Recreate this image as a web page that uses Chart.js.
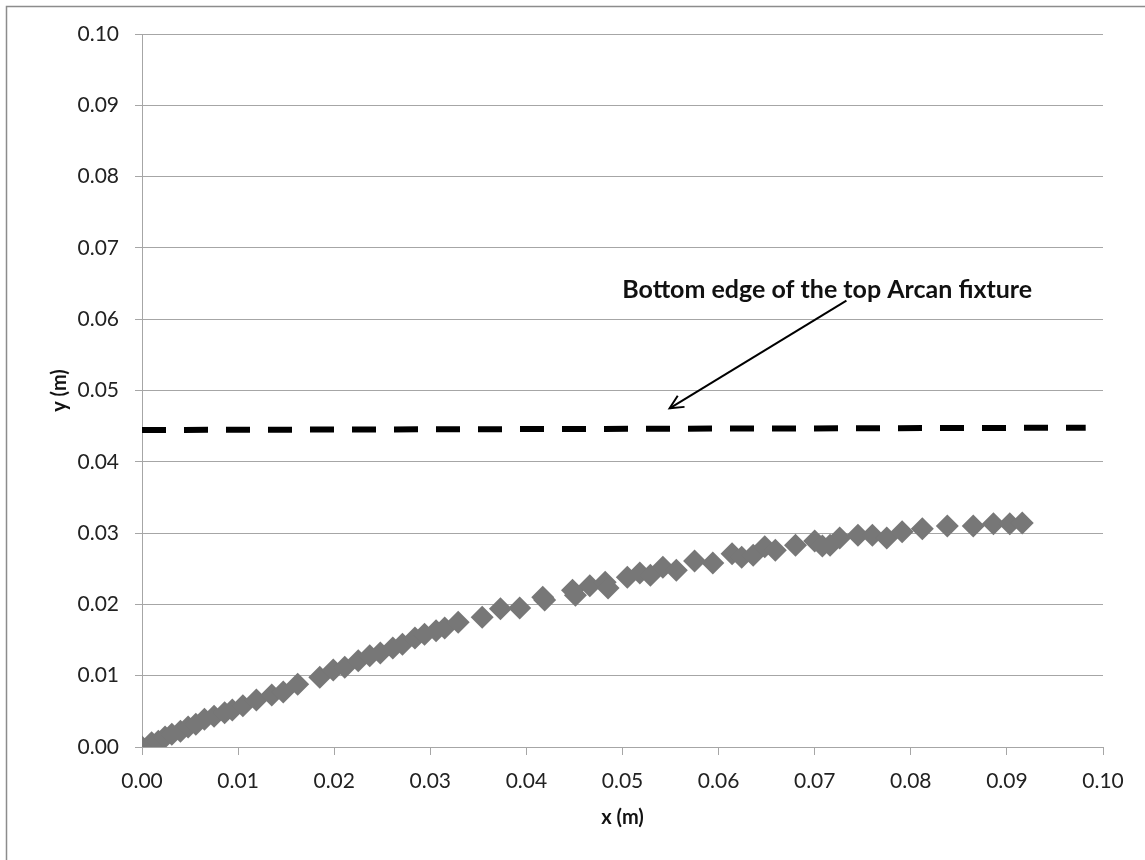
<!DOCTYPE html>
<html>
<head>
<title>Arcan fixture deflection</title>
<script src="https://cdn.jsdelivr.net/npm/chart.js@4"></script>
<style>
  body { margin: 0; background: #fff; }
  #wrap { position: relative; width: 1145px; height: 860px; }
</style>
</head>
<body>
<div id="wrap"><canvas id="chart" width="1145" height="860"></canvas></div>
<script>
// measured points (m)
const xVals = [0.0000, 0.0010, 0.0017, 0.0024, 0.0031, 0.0040, 0.0048, 0.0056, 0.0065, 0.0075,
  0.0086, 0.0094, 0.0105, 0.0119, 0.0135, 0.0147, 0.0162, 0.0185, 0.0199, 0.0211,
  0.0225, 0.0237, 0.0248, 0.0261, 0.0271, 0.0284, 0.0294, 0.0306, 0.0315, 0.0329,
  0.0354, 0.0373, 0.0393, 0.0417, 0.0419, 0.0448, 0.0451, 0.0466, 0.0482, 0.0485,
  0.0505, 0.0518, 0.0529, 0.0542, 0.0556, 0.0575, 0.0594, 0.0614, 0.0624, 0.0636,
  0.0648, 0.0659, 0.0680, 0.0700, 0.0708, 0.0716, 0.0726, 0.0745, 0.0760, 0.0775,
  0.0791, 0.0812, 0.0838, 0.0865, 0.0886, 0.0903, 0.0916]
const yVals = [0.0000, 0.0006, 0.0008, 0.0014, 0.0018, 0.0022, 0.0028, 0.0032, 0.0039, 0.0043,
  0.0048, 0.0052, 0.0058, 0.0066, 0.0073, 0.0077, 0.0088, 0.0098, 0.0108, 0.0112,
  0.0121, 0.0128, 0.0132, 0.0139, 0.0144, 0.0153, 0.0158, 0.0163, 0.0167, 0.0175,
  0.0182, 0.0194, 0.0195, 0.0210, 0.0206, 0.0220, 0.0213, 0.0226, 0.0231, 0.0223,
  0.0238, 0.0244, 0.0241, 0.0252, 0.0248, 0.0261, 0.0258, 0.0271, 0.0266, 0.0269,
  0.0281, 0.0276, 0.0283, 0.0289, 0.0282, 0.0283, 0.0293, 0.0297, 0.0297, 0.0293,
  0.0302, 0.0306, 0.0310, 0.0310, 0.0313, 0.0313, 0.0314]

// fixture edge (dashed line)
const edgeX = [0.0000, 0.0982]
const edgeY = [0.04446, 0.04478]

// annotation arrow: start near text, tip above the dashed line
const arrowX = [0.0733, 0.0549]
const arrowY = [0.0626, 0.0475]
const noteText = 'Bottom edge of the top Arcan fixture'
const notePos = { x: 0.0713, y: 0.0641 }

const xTicks = [0, 0.01, 0.02, 0.03, 0.04, 0.05, 0.06, 0.07, 0.08, 0.09, 0.10]
const yTicks = [0, 0.01, 0.02, 0.03, 0.04, 0.05, 0.06, 0.07, 0.08, 0.09, 0.10]

const FONT = 'Lato, "Liberation Sans", sans-serif'
const zip = (xs, ys) => xs.map((x, i) => ({ x, y: ys[i] }))

const extras = {
    id: 'extras',
    afterDatasetsDraw(chart) {
        const { ctx, scales: { x, y } } = chart
        // arrow head at the tip
        const x0 = x.getPixelForValue(arrowX[0]), y0 = y.getPixelForValue(arrowY[0])
        const x1 = x.getPixelForValue(arrowX[1]), y1 = y.getPixelForValue(arrowY[1])
        const a = Math.atan2(y1 - y0, x1 - x0)
        const len = 15, spread = 0.45
        ctx.save()
        ctx.strokeStyle = '#000'
        ctx.lineWidth = 2
        ctx.beginPath()
        ctx.moveTo(x1 - len * Math.cos(a - spread), y1 - len * Math.sin(a - spread))
        ctx.lineTo(x1, y1)
        ctx.lineTo(x1 - len * Math.cos(a + spread), y1 - len * Math.sin(a + spread))
        ctx.stroke()
        // note text
        ctx.fillStyle = '#111'
        ctx.font = 'bold 25px ' + FONT
        ctx.textAlign = 'center'
        ctx.textBaseline = 'middle'
        ctx.fillText(noteText, x.getPixelForValue(notePos.x), y.getPixelForValue(notePos.y))
        ctx.restore()
    },
    afterDraw(chart) {
        const ctx = chart.ctx
        ctx.save()
        ctx.strokeStyle = '#8c8c8c'
        ctx.lineWidth = 1.5
        ctx.strokeRect(6.5, 6.5, 1300, 1000)
        ctx.restore()
    },
}

new Chart('chart', {
    type: 'scatter',
    data: {
        datasets: [
            {
                label: 'edge',
                type: 'line',
                data: zip(edgeX, edgeY),
                borderColor: '#000',
                borderWidth: 6,
                borderDash: [24, 18],
                borderCapStyle: 'butt',
                pointRadius: 0,
                order: 2,
            },
            {
                label: 'arrow',
                type: 'line',
                data: zip(arrowX, arrowY),
                borderColor: '#000',
                borderWidth: 2,
                pointRadius: 0,
                order: 1,
            },
            {
                label: 'data',
                data: zip(xVals, yVals),
                pointStyle: 'rectRot',
                pointRadius: 11.5,
                backgroundColor: '#777777',
                borderWidth: 0,
                order: 3,
            },
        ],
    },
    options: {
        responsive: false,
        animation: false,
        events: [],
        layout: { padding: { left: 44, top: 34, right: 42, bottom: 26 } },
        plugins: { legend: { display: false }, tooltip: { enabled: false } },
        scales: {
            x: {
                type: 'linear',
                min: 0,
                max: 0.10,
                afterBuildTicks: s => { s.ticks = xTicks.map(value => ({ value })) },
                afterFit: s => { s.height = 87 },
                grid: { display: true, drawOnChartArea: false, color: '#a6a6a6', tickLength: 8 },
                border: { color: '#a6a6a6', width: 1 },
                ticks: {
                    font: { family: FONT, size: 21 },
                    color: '#222',
                    padding: 14,
                    maxRotation: 0,
                    callback: v => v.toFixed(2),
                },
                title: {
                    display: true,
                    text: 'x (m)',
                    font: { family: FONT, size: 20, weight: 'bold' },
                    color: '#111',
                    padding: { top: 6 },
                },
            },
            y: {
                type: 'linear',
                min: 0,
                max: 0.10,
                afterBuildTicks: s => { s.ticks = yTicks.map(value => ({ value })) },
                afterFit: s => { s.width = 98 },
                grid: { color: '#a6a6a6', tickLength: 7 },
                border: { color: '#a6a6a6', width: 1 },
                ticks: {
                    font: { family: FONT, size: 21 },
                    color: '#222',
                    padding: 16,
                    callback: v => v.toFixed(2),
                },
                title: {
                    display: true,
                    text: 'y (m)',
                    font: { family: FONT, size: 20, weight: 'bold' },
                    color: '#111',
                    padding: { bottom: 0 },
                },
            },
        },
    },
    plugins: [extras],
})
</script>
</body>
</html>
